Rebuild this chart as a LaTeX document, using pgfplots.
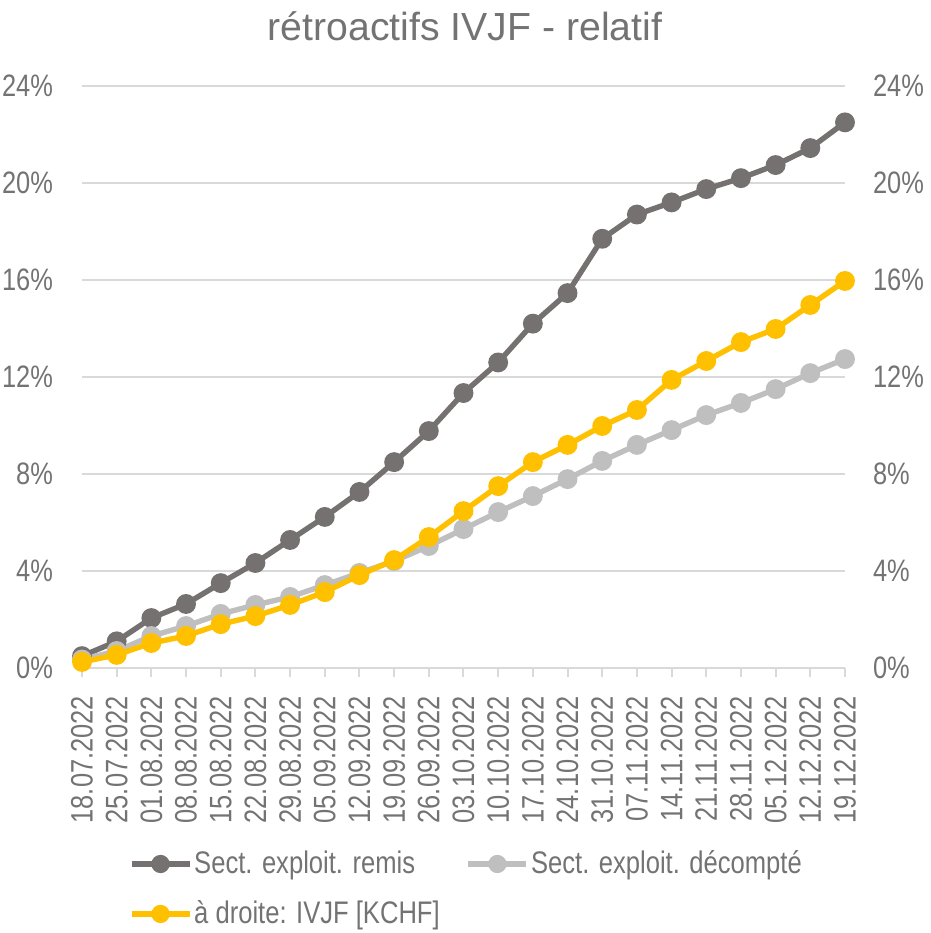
\documentclass[border=0pt]{standalone}
\usepackage{fontspec}
\setmainfont{Liberation Sans}[FakeStretch=0.82]
\newfontfamily\titlefont{Liberation Sans}
\usepackage{pgfplots}
\pgfplotsset{compat=1.18}
\definecolor{txt}{HTML}{737373}
\definecolor{gridc}{HTML}{D9D9D9}
\definecolor{dgrey}{HTML}{767171}
\definecolor{lgrey}{HTML}{BFBFBF}
\definecolor{yel}{HTML}{FFC000}
\pgfplotstableread{
x dark light yel
0 0.49 0.35 0.25
1 1.10 0.70 0.54
2 2.06 1.32 1.03
3 2.64 1.73 1.32
4 3.50 2.23 1.81
5 4.33 2.60 2.14
6 5.28 2.93 2.60
7 6.23 3.42 3.13
8 7.26 3.92 3.83
9 8.49 4.41 4.45
10 9.77 5.03 5.40
11 11.34 5.73 6.47
12 12.60 6.43 7.50
13 14.20 7.09 8.49
14 15.46 7.79 9.20
15 17.70 8.54 9.98
16 18.70 9.20 10.64
17 19.20 9.81 11.88
18 19.75 10.43 12.66
19 20.20 10.93 13.44
20 20.74 11.50 13.98
21 21.44 12.16 14.97
22 22.50 12.74 15.96
}\data
\begin{document}
\begin{tikzpicture}
\useasboundingbox (-41pt,-132.5pt) rectangle (424.5pt,334pt);
\pgfplotsset{
  common/.style={
    width=381.5pt, height=291pt, scale only axis,
    xmin=0, xmax=22, ymin=0, ymax=24,
    ytick={0,4,8,12,16,20,24},
    yticklabels={0\%,4\%,8\%,12\%,16\%,20\%,24\%},
    ticklabel style={font=\fontsize{15.5}{18}\selectfont, text=txt},
    clip=false,
  },
  ser/.style={line width=2.7pt, mark=*, mark size=3.6pt, mark options={solid}},
}
\begin{axis}[common,
  axis x line*=bottom, axis y line*=left,
  y axis line style={draw=none}, ytick style={draw=none},
  x axis line style={draw=gridc, line width=1pt},
  xtick={0,...,22},
  xticklabels={18.07.2022,25.07.2022,01.08.2022,08.08.2022,15.08.2022,22.08.2022,29.08.2022,05.09.2022,12.09.2022,19.09.2022,26.09.2022,03.10.2022,10.10.2022,17.10.2022,24.10.2022,31.10.2022,07.11.2022,14.11.2022,21.11.2022,28.11.2022,05.12.2022,12.12.2022,19.12.2022},
  xticklabel style={rotate=90, anchor=east, xshift=-6pt},
  xtick style={draw=gridc, line width=1pt},
  tick align=outside, major tick length=4.5pt,
  yticklabel style={xshift=-6.5pt},
  ymajorgrids, major grid style={draw=gridc, line width=1pt},
  legend columns=2,
  legend style={at={(0.505,-0.30)}, anchor=north, draw=none, fill=none,
    font=\fontsize{15.6}{18}\selectfont, text=txt,
    /tikz/every even column/.append style={column sep=11pt},
    /tikz/every odd column/.append style={column sep=-1pt},
    row sep=8pt},
  legend cell align=left,
  legend image code/.code={
    \draw[#1, mark=none] (0cm,0cm) -- (29pt,0cm);
    \fill[#1] (14.5pt,0cm) circle (3.2pt);},
]
\addplot[ser, color=dgrey] table[x=x, y=dark] {\data};
\addlegendentry{Sect. exploit. remis}
\addplot[ser, color=lgrey] table[x=x, y=light] {\data};
\addlegendentry{Sect. exploit. décompté}
\addlegendimage{ser, color=yel}
\addlegendentry{à droite: IVJF [KCHF]}
\node[anchor=base, font=\titlefont\fontsize{19.6}{24}\selectfont, text=txt] at (rel axis cs:0.502,1) [yshift=23pt] {rétroactifs IVJF - relatif};
\end{axis}
\begin{axis}[common,
  hide x axis,
  axis y line*=right,
  y axis line style={draw=none}, ytick style={draw=none},
  yticklabel style={xshift=10.5pt},
]
\addplot[ser, color=yel] table[x=x, y=yel] {\data};
\end{axis}
\end{tikzpicture}
\end{document}
